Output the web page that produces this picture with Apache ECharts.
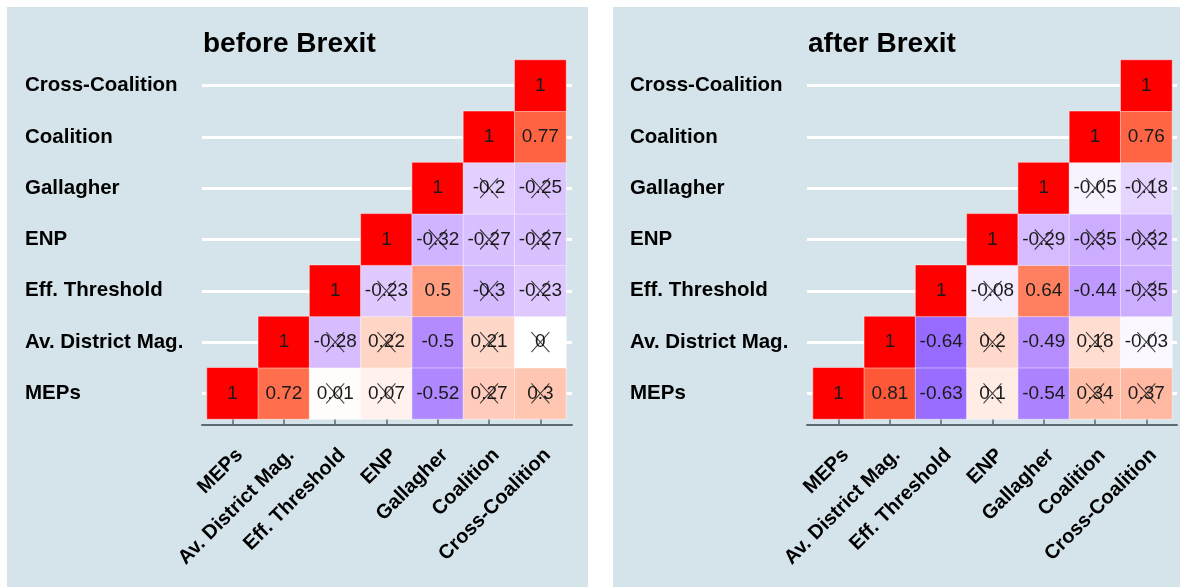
<!DOCTYPE html>
<html>
<head>
<meta charset="utf-8">
<style>
  html, body { margin: 0; padding: 0; background: #fff; }
  #main { width: 1187px; height: 587px; }
</style>
<script src="https://cdn.jsdelivr.net/npm/echarts@6/dist/echarts.min.js"></script>
</head>
<body>
<div id="main"></div>
<script>
// variables, bottom to top on y and left to right on x
var vars = ['MEPs', 'Av. District Mag.', 'Eff. Threshold', 'ENP', 'Gallagher', 'Coalition', 'Cross-Coalition'];

// row r holds the correlations of vars[r] with vars[r..6]
var beforeCorr = [
  [1, 0.72, 0.01, 0.07, -0.52, 0.27, 0.3],
  [1, -0.28, 0.22, -0.5, 0.21, 0],
  [1, -0.23, 0.5, -0.3, -0.23],
  [1, -0.32, -0.27, -0.27],
  [1, -0.2, -0.25],
  [1, 0.77],
  [1]
];
// 1 = not significant (crossed out)
var beforeInsig = [
  [0, 0, 1, 1, 0, 1, 1],
  [0, 1, 1, 0, 1, 1],
  [0, 1, 0, 1, 1],
  [0, 1, 1, 1],
  [0, 1, 1],
  [0, 0],
  [0]
];

var afterCorr = [
  [1, 0.81, -0.63, 0.1, -0.54, 0.34, 0.37],
  [1, -0.64, 0.2, -0.49, 0.18, -0.03],
  [1, -0.08, 0.64, -0.44, -0.35],
  [1, -0.29, -0.35, -0.32],
  [1, -0.05, -0.18],
  [1, 0.76],
  [1]
];
var afterInsig = [
  [0, 0, 0, 1, 0, 1, 1],
  [0, 0, 1, 0, 1, 1],
  [0, 1, 0, 0, 1],
  [0, 1, 1, 1],
  [0, 1, 1],
  [0, 0],
  [0]
];

// blue - white - red gradient interpolated in Lab space (like ggplot's gradient2)
function toLin(c) { c /= 255; return c <= 0.04045 ? c / 12.92 : Math.pow((c + 0.055) / 1.055, 2.4); }
function fromLin(c) { c = c <= 0.0031308 ? 12.92 * c : 1.055 * Math.pow(c, 1 / 2.4) - 0.055; return Math.max(0, Math.min(255, Math.round(c * 255))); }
function rgb2lab(rgb) {
  var r = toLin(rgb[0]), g = toLin(rgb[1]), b = toLin(rgb[2]);
  var x = (0.4124 * r + 0.3576 * g + 0.1805 * b) / 0.95047;
  var y = (0.2126 * r + 0.7152 * g + 0.0722 * b);
  var z = (0.0193 * r + 0.1192 * g + 0.9505 * b) / 1.08883;
  var f = function (t) { return t > 0.008856 ? Math.cbrt(t) : 7.787 * t + 16 / 116; };
  var fx = f(x), fy = f(y), fz = f(z);
  return [116 * fy - 16, 500 * (fx - fy), 200 * (fy - fz)];
}
function lab2rgb(lab) {
  var fy = (lab[0] + 16) / 116, fx = fy + lab[1] / 500, fz = fy - lab[2] / 200;
  var inv = function (t) { return t > 0.206893 ? t * t * t : (t - 16 / 116) / 7.787; };
  var x = inv(fx) * 0.95047, y = inv(fy), z = inv(fz) * 1.08883;
  var r = 3.2406 * x - 1.5372 * y - 0.4986 * z;
  var g = -0.9689 * x + 1.8758 * y + 0.0415 * z;
  var b = 0.0557 * x - 0.2040 * y + 1.0570 * z;
  return 'rgb(' + fromLin(r) + ',' + fromLin(g) + ',' + fromLin(b) + ')';
}
var lowLab = rgb2lab([0, 0, 255]), midLab = rgb2lab([255, 255, 255]), highLab = rgb2lab([255, 0, 0]);
var ramp = [];
for (var k = 0; k <= 40; k++) {
  var t = k / 20 - 1;
  var a = t < 0 ? lowLab : highLab, w = Math.abs(t);
  ramp.push(lab2rgb([0, 1, 2].map(function (d) { return midLab[d] + (a[d] - midLab[d]) * w; })));
}

function cells(corr) {
  var out = [];
  corr.forEach(function (row, r) {
    row.forEach(function (v, i) { out.push([r + i, r, v]); });
  });
  return out;
}
function crosses(insig) {
  var out = [];
  insig.forEach(function (row, r) {
    row.forEach(function (v, i) { if (v) out.push([r + i, r]); });
  });
  return out;
}

var font = "'Liberation Sans', Arial, sans-serif";
var bg = '#d5e4eb';
var axisCol = '#5d6870';

var panels = [
  { title: 'before Brexit', titleLeft: 198, bgLeft: 7, bgWidth: 581, left: 207, lineLeft: 202, corr: beforeCorr, insig: beforeInsig, labelLeft: 25 },
  { title: 'after Brexit', titleLeft: 803, bgLeft: 613, bgWidth: 567, left: 813, lineLeft: 807, corr: afterCorr, insig: afterInsig, labelLeft: 630 }
];
var cellTop = 60, cellH = 359, cellW = 359, rowH = cellH / 7;

var option = {
  backgroundColor: '#ffffff',
  textStyle: { fontFamily: font },
  animation: false,
  title: [],
  graphic: [],
  grid: [],
  xAxis: [],
  yAxis: [],
  visualMap: {
    show: false, type: 'continuous', min: -1, max: 1, dimension: 2,
    seriesIndex: [0, 2], inRange: { color: ramp }
  },
  series: []
};

panels.forEach(function (p, n) {
  option.graphic.push({
    type: 'rect', z: -100, silent: true,
    shape: { x: p.bgLeft, y: 7, width: p.bgWidth, height: 580 },
    style: { fill: bg }
  });
  option.title.push({
    text: p.title, left: p.titleLeft, top: 25,
    textStyle: { fontFamily: font, fontSize: 28, fontWeight: 'bold', color: '#000' }
  });
  // cell grid
  option.grid.push({ left: p.left, top: cellTop, width: cellW, height: cellH });
  // grid used for the white row lines and the bottom axis line
  option.grid.push({ left: p.lineLeft, top: cellTop + rowH / 2, width: cellW + 11, height: cellH - rowH });
  var g0 = n * 2, g1 = n * 2 + 1;
  option.xAxis.push({
    type: 'category', gridIndex: g0, data: vars, offset: 6,
    axisLine: { show: false },
    axisTick: { show: true, inside: true, length: 6, alignWithLabel: true, lineStyle: { color: axisCol, width: 1.5 } },
    splitLine: { show: false },
    axisLabel: {
      rotate: 45, margin: 20, verticalAlign: 'top', align: 'right', interval: 0,
      fontFamily: font, fontSize: 20, fontWeight: 'bold', color: '#000'
    }
  });
  option.yAxis.push({
    type: 'category', gridIndex: g0, data: vars,
    axisLine: { show: false }, axisTick: { show: false }, splitLine: { show: false },
    axisLabel: {
      align: 'left', margin: p.left - p.labelLeft, interval: 0,
      fontFamily: font, fontSize: 20.5, fontWeight: 'bold', color: '#000'
    }
  });
  option.xAxis.push({
    type: 'value', gridIndex: g1, min: 0, max: 1, offset: rowH / 2 + 6,
    axisLine: { show: true, lineStyle: { color: axisCol, width: 2 } },
    axisTick: { show: false }, axisLabel: { show: false }, splitLine: { show: false }
  });
  option.yAxis.push({
    type: 'category', gridIndex: g1, data: vars, boundaryGap: false,
    axisLine: { show: false }, axisTick: { show: false }, axisLabel: { show: false },
    splitLine: { show: true, lineStyle: { color: '#ffffff', width: 3 } }
  });
});

// heatmaps first (series 0 and 2 use the visualMap), crosses after each
panels.forEach(function (p, n) {
  option.series.push({
    type: 'heatmap', xAxisIndex: n * 2, yAxisIndex: n * 2,
    data: cells(p.corr),
    itemStyle: { borderColor: 'rgba(255,255,255,0.45)', borderWidth: 1 },
    label: {
      show: true, fontFamily: font, fontSize: 19, color: '#1a1a1a',
      formatter: function (d) { return String(d.value[2]); }
    },
    emphasis: { disabled: true }
  });
  option.series.push({
    type: 'scatter', xAxisIndex: n * 2, yAxisIndex: n * 2, z: 5,
    data: crosses(p.insig),
    symbol: 'path://M0,0L18,20M18,0L0,20',
    symbolSize: [18, 20],
    itemStyle: { color: 'rgba(0,0,0,0)', borderColor: '#111', borderWidth: 1.1 },
    emphasis: { disabled: true },
    silent: true
  });
});

var myChart = echarts.init(document.getElementById('main'));
myChart.setOption(option);
</script>
</body>
</html>
